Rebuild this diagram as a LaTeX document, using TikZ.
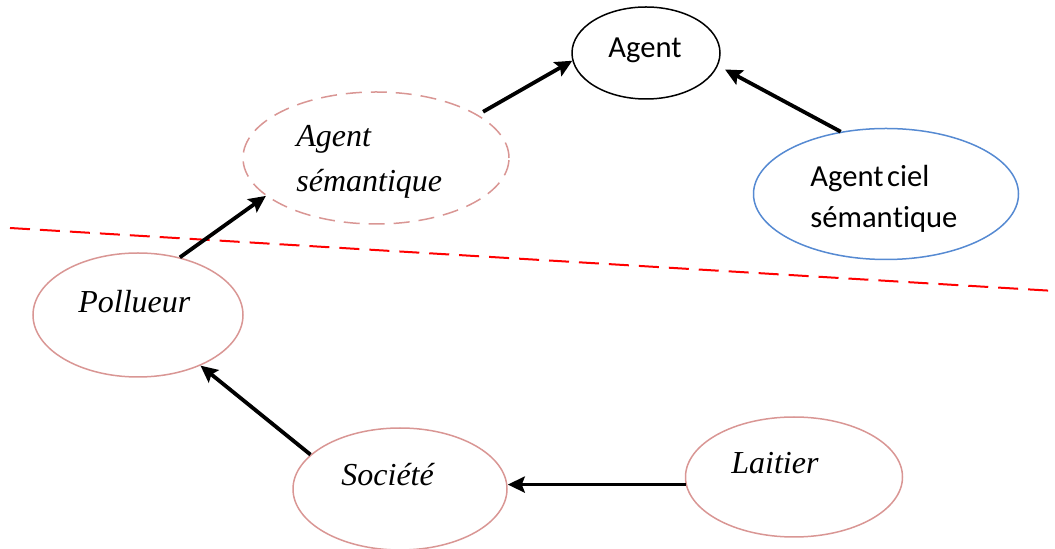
\documentclass[tikz,border=0pt]{standalone}
\usepackage{fontspec}
\setmainfont{Liberation Serif}
\newfontfamily\calibri[Ligatures=NoCommon,Contextuals=NoAlternate]{Carlito}
\usepackage{xcolor}
\usetikzlibrary{shapes.geometric,arrows.meta}

\definecolor{rosy}{RGB}{217,150,148}
\definecolor{skyblue}{RGB}{86,138,210}

\begin{document}
\begin{tikzpicture}[x=0.5pt,y=-0.5pt,
        blob/.style = {ellipse, draw=rosy, line width=0.75pt,
            inner sep=0pt},
        word/.style = {font=\fontsize{16}{22.5}\selectfont\itshape,
            inner sep=0pt, align=left},
        sans/.style = {font=\fontsize{15.3}{20.5}\selectfont\calibri,
            inner sep=0pt, align=left},
        link/.style = {line width=1.9pt,
            -{Stealth[length=8.5pt,width=8pt,inset=1.5pt]}}]

        \useasboundingbox (0,0) rectangle (1055,549);

        % Ellipses above the line
        \node[blob, draw=black, minimum width=74pt, minimum height=46pt] (agent) at (646,53) {};
        \node[blob, dashed, dash pattern=on 8pt off 4.5pt,
            minimum width=133pt, minimum height=66pt] (sem) at (376,158) {};
        \node[blob, draw=skyblue, minimum width=132.5pt, minimum height=65.5pt] (ciel) at (886,194) {};

        % Ellipses below the line
        \node[blob, minimum width=105pt, minimum height=62pt] (pol) at (138,315) {};
        \node[blob, minimum width=107pt, minimum height=61pt] (soc) at (400,489) {};
        \node[blob, minimum width=108.5pt, minimum height=60pt] (lai) at (794,477) {};

        % Texts
        \node[sans, anchor=base] (agentT) at (645,58) {Agent};
        \node[word, anchor=west] (semT) at (296,162) {Agent\\sémantique};
        \node[sans, anchor=west] (cielT) at (810,199) {Agent\hspace{0.12em}ciel\\séman\kern0pt tique};
        \node[word, anchor=base west] (polT) at (78,313) {Pollueur};
        \node[word, anchor=base west] (socT) at (341,486) {Société};
        \node[word, anchor=base west] (laiT) at (731,474) {Laitier};

        % Dividing line
        \coordinate (sepL) at (10,228);
        \coordinate (sepR) at (1055,291);
        \draw[red, line width=1pt, dash pattern=on 10pt off 5pt] (sepL) -- (sepR);

        % Arrows
        \draw[link, shorten <=3pt] (sem.23) -- (agent.186);
        \draw[link, shorten >=4pt] (ciel.126) -- (agent.-10);
        \draw[link] (pol.54) -- (sem.199);
        \draw[link] (soc.159) -- (pol.-39);
        \draw[link] (lai.184) -- (soc.east |- lai.184);
    \end{tikzpicture}
\end{document}
